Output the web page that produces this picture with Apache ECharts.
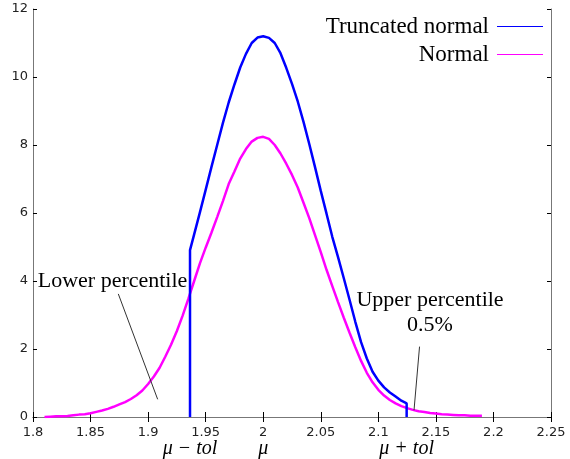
<!DOCTYPE html>
<html><head><meta charset="utf-8">
<script src="https://cdn.jsdelivr.net/npm/echarts@6/dist/echarts.min.js"></script>
<style>html,body{margin:0;padding:0;background:#fff}#c{width:570px;height:459px}</style>
</head><body><div id="c"></div>
<script>
// ---- data ----
const seriesNames = ['Truncated normal', 'Normal'];

const truncX = [1.9364, 1.9364, 1.94, 1.945, 1.95, 1.955, 1.96, 1.965, 1.97, 1.975, 1.98, 1.985, 1.99, 1.995, 2.0,
  2.005, 2.01, 2.015, 2.02, 2.025, 2.03, 2.035, 2.04, 2.045, 2.05, 2.055, 2.06, 2.065, 2.07, 2.075, 2.08,
  2.085, 2.09, 2.095, 2.10, 2.105, 2.11, 2.115, 2.12, 2.1246, 2.1246];
const truncY = [0, 4.91, 5.37, 6.02, 6.68, 7.35, 8.0, 8.65, 9.25, 9.78, 10.28, 10.68, 11.0, 11.16, 11.2,
  11.15, 11.0, 10.7, 10.27, 9.8, 9.28, 8.68, 8.03, 7.35, 6.65, 5.98, 5.3, 4.7, 4.08, 3.45, 2.8,
  2.2, 1.72, 1.33, 1.07, 0.87, 0.72, 0.6, 0.48, 0.4, 0];

const normX = [1.81, 1.815, 1.82, 1.825, 1.83, 1.835, 1.84, 1.845, 1.85, 1.855, 1.86, 1.865, 1.87, 1.875,
  1.88, 1.885, 1.89, 1.895, 1.90, 1.905, 1.91, 1.915, 1.92, 1.925, 1.93, 1.935, 1.94, 1.945, 1.95, 1.955,
  1.96, 1.965, 1.97, 1.975, 1.98, 1.985, 1.99, 1.995, 2.0, 2.005, 2.01, 2.015, 2.02, 2.025, 2.03, 2.035,
  2.04, 2.045, 2.05, 2.055, 2.06, 2.065, 2.07, 2.075, 2.08, 2.085, 2.09, 2.095, 2.10, 2.105, 2.11, 2.115,
  2.12, 2.125, 2.13, 2.135, 2.14, 2.145, 2.15, 2.155, 2.16, 2.165, 2.17, 2.175, 2.18, 2.185, 2.19];
const normY = [0.0, 0.01, 0.02, 0.02, 0.03, 0.05, 0.07, 0.08, 0.11, 0.15, 0.19, 0.24, 0.30, 0.37,
  0.44, 0.53, 0.64, 0.78, 0.97, 1.19, 1.45, 1.78, 2.13, 2.53, 2.98, 3.48, 4.0, 4.52, 4.98, 5.42,
  5.88, 6.35, 6.85, 7.22, 7.6, 7.88, 8.1, 8.21, 8.24, 8.18, 8.0, 7.75, 7.45, 7.12, 6.75, 6.3,
  5.85, 5.35, 4.85, 4.33, 3.85, 3.38, 2.92, 2.48, 2.05, 1.65, 1.3, 1.02, 0.8, 0.63, 0.5, 0.4,
  0.32, 0.26, 0.21, 0.17, 0.15, 0.12, 0.10, 0.08, 0.07, 0.06, 0.05, 0.05, 0.04, 0.04, 0.04];

const xTickMin = 1.8, xTickMax = 2.25, xTickStep = 0.05;
const yTickMin = 0, yTickMax = 12, yTickStep = 2;

const muValues = [1.9364, 2.0, 2.1246];
const muLabels = ['\u03bc \u2212 tol', '\u03bc', '\u03bc + tol'];

const annotTexts = ['Lower percentile', 'Upper percentile\n0.5%'];
const annotTextAt = [[1.8691, 4.0], [2.1449, 3.07]];
const annotLine1 = [[1.8741, 3.62], [1.9083, 0.52]];
const annotLine2 = [[2.1358, 2.07], [2.1310, 0.2]];

// ---- chart ----
const zip = (xs, ys) => xs.map((x, i) => [x, ys[i]]);
const serif = 'Liberation Serif';
const tickFont = 'DejaVu Sans';
const frameColor = '#777';

const chart = echarts.init(document.getElementById('c'), null, {renderer: 'canvas'});
chart.setOption({
  animation: false,
  backgroundColor: '#fff',
  grid: {left: 33, right: 19, top: 9, bottom: 42, containLabel: false},
  xAxis: [
    {type: 'value', min: xTickMin, max: xTickMax, interval: xTickStep, position: 'bottom',
      axisLine: {show: true, lineStyle: {color: frameColor, width: 1}},
      axisTick: {show: true, inside: true, length: 5, lineStyle: {color: '#000'}},
      axisLabel: {show: true, margin: 9, fontFamily: tickFont, fontSize: 13, color: '#222'},
      splitLine: {show: false}},
    {type: 'value', min: xTickMin, max: xTickMax, interval: xTickStep, position: 'top',
      axisLine: {show: true, lineStyle: {color: frameColor, width: 1}},
      axisTick: {show: true, inside: true, length: 5, lineStyle: {color: '#000'}},
      axisLabel: {show: false}, splitLine: {show: false}},
    {type: 'value', min: xTickMin, max: xTickMax, position: 'bottom',
      axisLine: {show: false}, axisTick: {show: false}, splitLine: {show: false},
      axisLabel: {show: true, customValues: muValues, margin: 22, fontFamily: serif, fontStyle: 'italic',
        fontSize: 20, color: '#000',
        formatter: v => { const i = muValues.findIndex(m => Math.abs(m - v) < 1e-6); return i >= 0 ? muLabels[i] : ''; }}}
  ],
  yAxis: [
    {type: 'value', min: yTickMin, max: yTickMax, interval: yTickStep, position: 'left',
      axisLine: {show: true, lineStyle: {color: frameColor, width: 1}},
      axisTick: {show: true, inside: true, length: 4, lineStyle: {color: '#000'}},
      axisLabel: {show: true, margin: 5, fontFamily: tickFont, fontSize: 13, color: '#222'},
      splitLine: {show: false}},
    {type: 'value', min: yTickMin, max: yTickMax, interval: yTickStep, position: 'right',
      axisLine: {show: true, lineStyle: {color: frameColor, width: 1}},
      axisTick: {show: true, inside: true, length: 4, lineStyle: {color: '#000'}},
      axisLabel: {show: false}, splitLine: {show: false}}
  ],
  legend: [
    {data: [seriesNames[0]], right: 27, top: 15, padding: 0, orient: 'vertical', align: 'right', icon: 'rect',
      itemWidth: 46, itemHeight: 1.2, textStyle: {fontFamily: serif, fontSize: 23, color: '#000', padding: [0, 3, 0, 0]}},
    {data: [seriesNames[1]], right: 27, top: 43, padding: 0, orient: 'vertical', align: 'right', icon: 'rect',
      itemWidth: 46, itemHeight: 1.2, textStyle: {fontFamily: serif, fontSize: 23, color: '#000', padding: [0, 3, 0, 0]}}
  ],
  series: [
    {name: seriesNames[1], type: 'line', data: zip(normX, normY), showSymbol: false, symbol: 'none',
      color: '#ff00ff', lineStyle: {color: '#ff00ff', width: 2.5}, z: 3},
    {name: seriesNames[0], type: 'line', data: zip(truncX, truncY), showSymbol: false, symbol: 'none',
      color: '#0000ff', lineStyle: {color: '#0000ff', width: 2.5}, z: 4},
    {name: 'annot1', type: 'line', data: annotLine1, showSymbol: false, symbol: 'none',
      lineStyle: {color: '#333', width: 1}, z: 5},
    {name: 'annot2', type: 'line', data: annotLine2, showSymbol: false, symbol: 'none',
      lineStyle: {color: '#333', width: 1}, z: 5},
    {name: 'annotText', type: 'scatter', symbolSize: 1, itemStyle: {color: 'rgba(0,0,0,0)'}, z: 6,
      data: annotTextAt.map((p, i) => ({value: p, label: {formatter: annotTexts[i]}})),
      label: {show: true, position: 'inside', fontFamily: serif, fontSize: 22, lineHeight: 25, color: '#000',
        textBorderWidth: 0, textBorderColor: 'transparent', opacity: 1, align: 'center'}}
  ]
});
</script></body></html>
